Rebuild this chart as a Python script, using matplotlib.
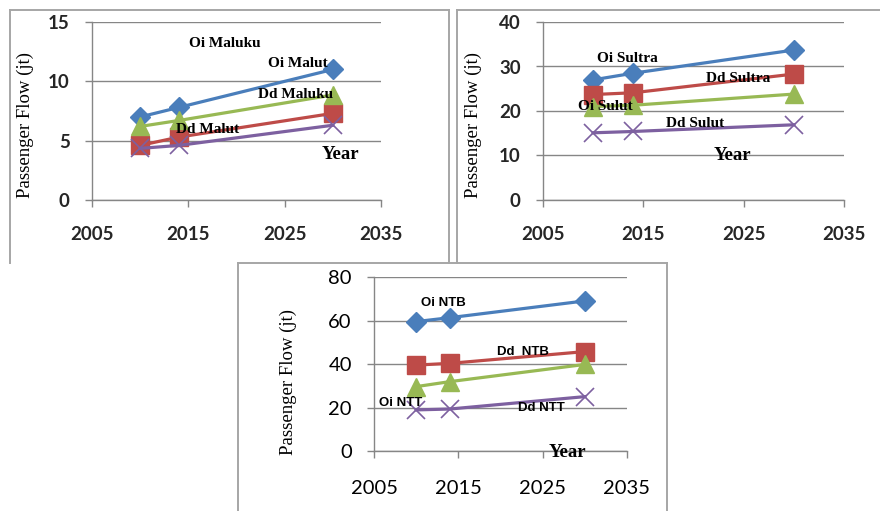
import matplotlib
matplotlib.use("Agg")
import matplotlib.pyplot as plt
from matplotlib.lines import Line2D

W, H = 880, 511

years = [2010, 2014, 2030]
x_ticks = [2005, 2015, 2025, 2035]

# top left: Maluku / Malut
maluku_oi = [7.0, 7.8, 11.0]
maluku_dd = [4.6, 5.3, 7.3]
malut_oi = [6.2, 6.7, 8.85]
malut_dd = [4.35, 4.6, 6.3]

# top right: Sultra / Sulut
sultra_oi = [27.0, 28.5, 33.7]
sultra_dd = [23.7, 24.1, 28.3]
sulut_oi = [21.0, 21.3, 23.8]
sulut_dd = [15.1, 15.4, 16.9]

# bottom: NTB / NTT
ntb_oi = [59.5, 61.3, 69.0]
ntb_dd = [39.5, 40.3, 45.7]
ntt_oi = [29.6, 31.9, 39.8]
ntt_dd = [18.9, 19.3, 25.0]

# text boxes (label, x, y)
labels_1 = [("Oi Maluku", 2018.8, 13.2), ("Oi Malut", 2026.4, 11.5),
            ("Dd Maluku", 2026.1, 8.9), ("Dd Malut", 2017.0, 5.95)]
labels_2 = [("Oi Sultra", 2013.4, 31.8), ("Dd Sultra", 2024.4, 27.3),
            ("Oi Sulut", 2011.2, 21.0), ("Dd Sulut", 2020.2, 17.1)]
labels_3 = [("Oi NTB", 2013.2, 67.9), ("Dd  NTB", 2022.7, 45.7),
            ("Oi NTT", 2008.1, 21.9), ("Dd NTT", 2024.9, 19.6)]
year_pos = [(2030.8, 3.8), (2023.9, 10.1), (2027.9, -0.6)]

colors = ["#4A7EBB", "#BE4B48", "#98B954", "#7D60A0"]
markers = ["D", "s", "^", "x"]
msizes = [10, 13, 13, 13]

AX_GRAY = "#868686"
FRAME_GRAY = "#A6A6A6"
SERIF = "Liberation Serif"

fig = plt.figure(figsize=(W / 100, H / 100), dpi=100)


def frame_line(x0, y0, x1, y1):
    fig.add_artist(Line2D([x0 / W, x1 / W], [1 - y0 / H, 1 - y1 / H],
                          color=FRAME_GRAY, lw=1.4))


def add_axes(l, t, r, b):
    return fig.add_axes([l / W, 1 - b / H, (r - l) / W, (b - t) / H])


def draw_panel(ax, series, ymax, ystep, bottom_style):
    # series order: blue, red, green, purple
    for vals, c, m, ms in zip(series, colors, markers, msizes):
        ax.plot(years, vals, color=c, lw=2.3, marker=m, ms=ms,
                mfc=c, mec=c, mew=1.2 if m == "x" else 1)
    ax.set_xlim(2005, 2035)
    ax.set_ylim(0, ymax)
    ax.set_xticks(x_ticks)
    ax.set_yticks(range(0, ymax + 1, ystep))
    ax.yaxis.grid(True, color=AX_GRAY, lw=1.0)
    ax.set_axisbelow(True)
    for s in ["top", "right"]:
        ax.spines[s].set_visible(False)
    for s in ["left", "bottom"]:
        ax.spines[s].set_color(AX_GRAY)
        ax.spines[s].set_linewidth(1.0)
    ax.tick_params(direction="out", length=5, width=1, color=AX_GRAY)
    if bottom_style:
        ax.tick_params(labelsize=14.5, labelcolor="black")
        ax.tick_params(axis="x", pad=16)
        ax.tick_params(axis="y", pad=11)
        for t in ax.get_xticklabels() + ax.get_yticklabels():
            t.set_fontfamily("Lato")
    else:
        ax.tick_params(labelsize=13.5, labelcolor="#262626")
        ax.tick_params(axis="x", pad=14)
        ax.tick_params(axis="y", pad=11)
        for t in ax.get_xticklabels() + ax.get_yticklabels():
            t.set_fontfamily("Lato")
            t.set_fontweight("bold")


# outer frames
frame_line(10, 10, 10, 263)
frame_line(10, 10, 449, 10)
frame_line(449, 10, 449, 263)
frame_line(457, 10, 457, 263)
frame_line(457, 10, 880, 10)
frame_line(238, 263, 667, 263)
frame_line(238, 263, 238, 511)
frame_line(667, 263, 667, 511)

ax1 = add_axes(92, 22, 381, 200)
draw_panel(ax1, [maluku_oi, maluku_dd, malut_oi, malut_dd], 15, 5, False)
for s, x, y in labels_1:
    ax1.text(x, y, s, ha="center", va="center", fontfamily=SERIF,
             fontweight="bold", fontsize=11)

ax2 = add_axes(543, 22, 844, 200)
draw_panel(ax2, [sultra_oi, sultra_dd, sulut_oi, sulut_dd], 40, 10, False)
for s, x, y in labels_2:
    ax2.text(x, y, s, ha="center", va="center", fontfamily=SERIF,
             fontweight="bold", fontsize=11)

ax3 = add_axes(374, 277, 627, 451)
draw_panel(ax3, [ntb_oi, ntb_dd, ntt_oi, ntt_dd], 80, 20, True)
for s, x, y in labels_3:
    ax3.text(x, y, s, ha="center", va="center", fontfamily="Liberation Sans",
             fontweight="bold", fontsize=9.5)

for ax, (x, y) in zip([ax1, ax2, ax3], year_pos):
    ax.text(x, y, "Year", ha="center", va="center", fontfamily=SERIF,
            fontweight="bold", fontsize=13.5)

# y axis titles
for cx, cy in [(25, 125), (473, 125), (288, 382)]:
    fig.text(cx / W, 1 - cy / H, "Passenger Flow (jt)", rotation=90,
             ha="center", va="center", fontfamily=SERIF, fontsize=13.5)

fig.savefig("out.png", dpi=100)
